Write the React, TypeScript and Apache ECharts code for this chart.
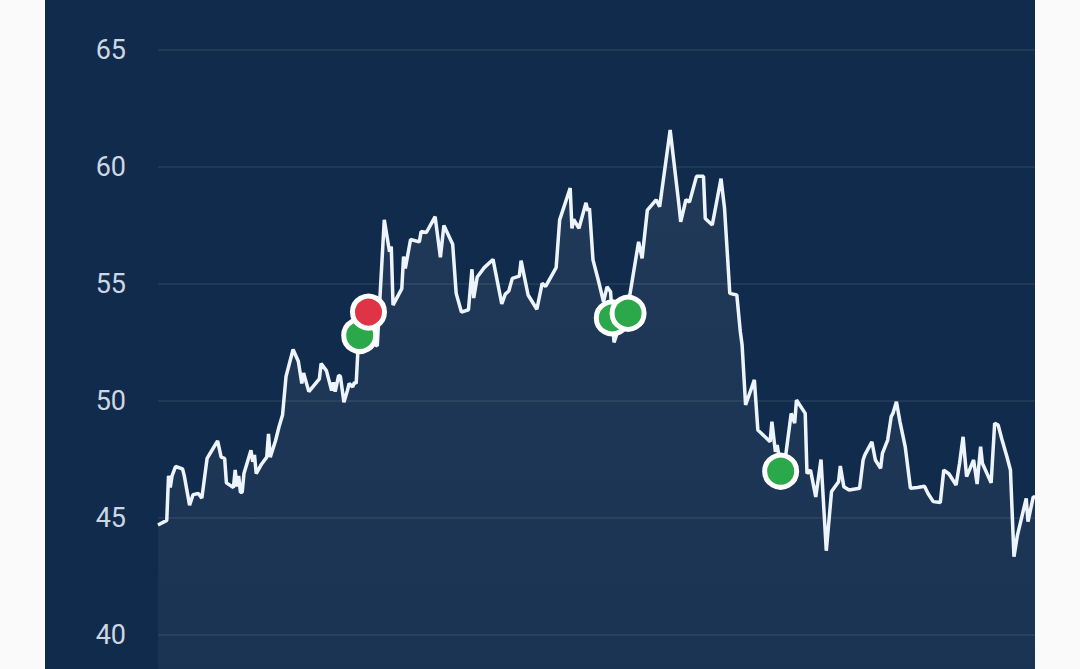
import React, { useEffect, useRef } from "react";
import * as echarts from "echarts";

// trading-day index and closing price
const days = [
  0, 5, 6, 7, 8, 10, 14, 15, 18, 20, 23, 25, 28, 30, 34, 36, 38, 39, 43, 44,
  45, 46, 47, 48, 49, 53, 54, 55, 56, 59, 62, 63, 64, 67, 69, 71, 73, 77, 80, 82,
  83, 86, 92, 93, 96, 99, 100, 101, 103, 104, 106, 108, 109, 111, 112, 113, 114, 117, 122, 125,
  129, 132, 133, 134, 139, 140, 141, 144, 149, 150, 153, 158, 161, 163, 168, 170, 173, 177, 179, 180,
  182, 186, 191, 196, 198, 200, 202, 206, 207, 211, 216, 219, 221, 227, 229, 235, 236, 237, 240, 244,
  245, 246, 248, 251, 254, 256, 258, 260, 264, 269, 274, 276, 279, 284, 286, 292, 297, 298, 301, 303,
  307, 311, 312, 316, 321, 323, 326, 330, 332, 333, 335, 340, 342, 349, 350, 352, 353, 355, 358, 361,
  363, 364, 369, 370, 372, 375, 378, 381, 384, 388, 389, 391, 394, 400, 402, 403, 407, 409, 412, 413,
  416, 418, 419, 421, 423, 426, 429, 433, 437, 439, 442, 446, 448, 451, 455, 457, 459, 461, 463, 465,
  467, 469, 470, 475, 477, 479, 481, 484, 486, 488, 490, 495, 496, 499, 500,
];
const prices = [
  44.7, 44.9, 46.8, 46.3, 46.8, 47.2, 47.1, 46.8, 45.55, 46.0, 46.05, 45.85, 47.55, 47.8, 48.3, 47.6, 47.55, 46.5, 46.3, 47.05,
  46.35, 46.8, 46.1, 46.1, 46.9, 47.9, 47.4, 47.7, 46.9, 47.3, 47.6, 48.6, 47.6, 48.3, 48.9, 49.4, 51.05, 52.2, 51.7, 50.75,
  51.2, 50.4, 50.95, 51.6, 51.3, 50.45, 50.8, 50.4, 51.1, 51.05, 49.95, 50.45, 50.75, 50.6, 50.8, 50.75, 52.2, 52.4, 52.5, 52.35,
  57.74, 56.38, 56.6, 54.1, 54.8, 56.17, 55.67, 56.9, 56.8, 57.24, 57.2, 57.88, 56.14, 57.5, 56.7, 54.6, 53.8, 53.9, 55.63, 54.4,
  55.3, 55.7, 56.05, 54.15, 54.57, 54.7, 55.24, 55.34, 56.0, 54.53, 53.92, 55.03, 54.9, 55.7, 57.74, 59.1, 57.38, 57.76, 57.38, 58.47,
  58.13, 58.23, 56.03, 55.17, 54.24, 54.88, 54.67, 52.5, 53.4, 54.53, 56.8, 56.1, 58.16, 58.6, 58.3, 61.58, 58.38, 57.66, 58.6, 58.5,
  59.6, 59.6, 57.8, 57.52, 59.5, 58.23, 54.6, 54.53, 52.96, 52.4, 49.83, 50.9, 48.76, 48.26, 49.12, 47.83, 48.12, 47.2, 47.76, 49.47,
  49.05, 50.04, 49.47, 46.9, 47.05, 45.9, 47.5, 43.6, 46.13, 46.55, 47.22, 46.34, 46.2, 46.27, 47.48, 47.7, 48.26, 47.48, 47.12, 47.76,
  48.33, 49.33, 49.47, 49.97, 49.12, 48.05, 46.27, 46.3, 46.36, 46.05, 45.7, 45.66, 47.05, 46.88, 46.41, 47.34, 48.47, 46.77, 47.12, 47.48,
  46.45, 48.05, 47.34, 46.5, 49.05, 48.97, 48.4, 47.62, 47.05, 43.35, 44.27, 45.84, 44.84, 45.9, 45.9,
];

// trade markers
const buyDays = [115, 259, 268, 355];
const buyPrices = [52.8, 53.55, 53.75, 47.0];
const sellDays = [120];
const sellPrices = [53.8];

const yTicks = { min: 35, max: 65, interval: 5 };

export default function App() {
  const ref = useRef<HTMLDivElement>(null);

  useEffect(() => {
    if (!ref.current) return;
    const chart = echarts.init(ref.current, undefined, { renderer: "svg" });
    const line = days.map((d, i) => [d, prices[i]]);
    const buys = buyDays.map((d, i) => [d, buyPrices[i]]);
    const sells = sellDays.map((d, i) => [d, sellPrices[i]]);
    chart.setOption({
      animation: false,
      backgroundColor: "#112b4c",
      grid: { left: 113, right: 0, top: 50, bottom: 48 },
      xAxis: {
        type: "value",
        min: 0,
        max: 500,
        show: false,
      },
      yAxis: {
        type: "value",
        min: yTicks.min,
        max: yTicks.max,
        interval: yTicks.interval,
        axisLine: { show: false },
        axisTick: { show: false },
        axisLabel: {
          color: "#cdd7e4",
          fontSize: 27,
          fontFamily: "Roboto",
          margin: 32,
          showMinLabel: false,
        },
        splitLine: { lineStyle: { color: "rgba(255,255,255,0.09)", width: 1.5 } },
      },
      series: [
        {
          type: "line",
          data: line,
          showSymbol: false,
          symbol: "none",
          lineStyle: { color: "#eef4fb", width: 3.5 },
          areaStyle: {
            color: new echarts.graphic.LinearGradient(0, 0, 0, 1, [
              { offset: 0, color: "rgba(255,255,255,0.10)" },
              { offset: 1, color: "rgba(255,255,255,0.05)" },
            ]),
          },
          z: 2,
        },
        {
          type: "scatter",
          data: buys,
          symbolSize: 32,
          itemStyle: { color: "#2aa84a", borderColor: "#ffffff", borderWidth: 5, opacity: 1 },
          z: 3,
        },
        {
          type: "scatter",
          data: sells,
          symbolSize: 32,
          itemStyle: { color: "#de3446", borderColor: "#ffffff", borderWidth: 5, opacity: 1 },
          z: 4,
        },
      ],
    });
    return () => chart.dispose();
  }, []);

  return (
    <div
      style={{
        position: "fixed",
        left: 0,
        top: 0,
        width: 1080,
        height: 669,
        overflow: "hidden",
        background: "#fafafa",
      }}
    >
      <div
        ref={ref}
        style={{ position: "absolute", left: 45, top: 0, width: 990, height: 800 }}
      />
    </div>
  );
}
